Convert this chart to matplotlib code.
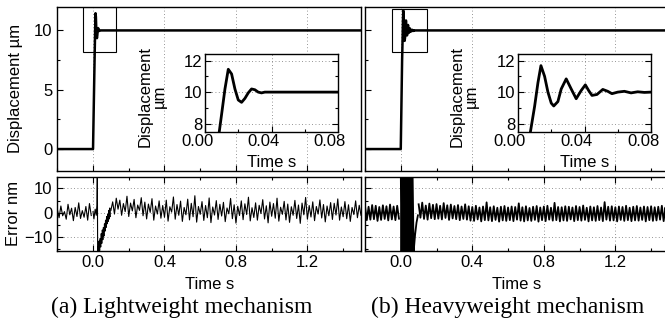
import matplotlib
matplotlib.use("Agg")
import matplotlib.pyplot as plt
import matplotlib.transforms as mtransforms
import numpy as np
from matplotlib.patches import Rectangle
from matplotlib.ticker import MultipleLocator

plt.rcParams['font.family'] = ['Liberation Sans', 'DejaVu Sans']

# ---- step response (displacement um) ----
light_t = [-0.2, 0.0, 0.004, 0.0086, 0.010, 0.012, 0.014, 0.016, 0.018, 0.020,
           0.022, 0.024, 0.026, 0.028, 0.030, 0.032, 0.034, 0.036, 0.040, 0.080, 1.5]
light_y = [0.0, 0.0, 3.5, 7.5, 8.6, 10.2, 11.45, 11.15, 10.2, 9.5,
           9.35, 9.6, 9.95, 10.2, 10.15, 10.0, 9.95, 10.0, 10.0, 10.0, 10.0]

heavy_t = [-0.2, 0.0, 0.004, 0.0075, 0.010, 0.012, 0.0138, 0.016, 0.018, 0.020,
           0.0215, 0.024, 0.026, 0.029, 0.032, 0.035, 0.038, 0.0405, 0.0425, 0.0445,
           0.0475, 0.051, 0.054, 0.0565, 0.060, 0.064, 0.068, 0.072, 0.076, 0.080, 1.5]
heavy_y = [0.0, 0.0, 4.0, 7.5, 9.1, 10.6, 11.68, 11.0, 10.0, 9.3,
           9.12, 9.4, 10.2, 10.84, 10.2, 9.58, 10.1, 10.46, 10.1, 9.79,
           9.85, 10.17, 10.05, 9.9, 10.0, 10.05, 9.95, 10.02, 9.98, 10.0, 10.0]

# ---- tracking error (nm) ----
# samples every 10 ms before the step (-0.20 .. -0.01) and after it (0.10 .. 1.50)
pre_t = np.round(np.arange(20) * 0.01 - 0.2, 3)
post_t = np.round(np.arange(141) * 0.01 + 0.1, 3)

light_err_pre = [1.5, -2.0, 2.8, -1.2, 0.5, -2.6, 3.5, -0.8, 1.9, -3.2,
                 2.2, -1.5, 4.1, -2.3, 0.9, -1.8, 2.6, -3.0, 3.8, -1.1]
light_burst_t = [0.0, 0.005, 0.012, 0.018, 0.022, 0.024, 0.026, 0.028, 0.031, 0.034,
                 0.037, 0.040, 0.043, 0.046, 0.049, 0.052, 0.055, 0.058, 0.061, 0.064,
                 0.067, 0.070, 0.073, 0.076, 0.079, 0.082, 0.085, 0.088, 0.091, 0.094,
                 0.097]
light_burst = [0.5, -2.5, 1.5, -1.0, 3.0, 18.0, -18.0, -14.0, -16.0, -11.5,
               -15.5, -10.5, -14.0, -8.5, -12.5, -7.0, -11.0, -6.0, -9.5, -4.5,
               -7.5, -3.0, -6.0, -1.5, -4.5, -0.5, -3.5, 1.0, -2.5, 2.0,
               -1.5]
light_err_post = [1.0, 4.5, -0.5, 6.0, 1.5, 5.2, -1.0, 3.8, 0.5, 6.8,
                  -1.5, 4.0, 0.8, 5.5, -2.0, 3.2, 1.0, 6.2, -1.2, 4.4,
                  -2.5, 3.6, 0.2, 5.8, -3.0, 2.8, -0.5, 4.9, -2.2, 3.0,
                  -1.8, 5.2, -3.4, 2.5, 0.3, 6.5, -2.6, 3.4, -1.0, 4.8,
                  -3.5, 2.2, -0.8, 5.6, -2.9, 3.9, -1.6, 7.0, -3.8, 2.6,
                  -0.6, 4.6, -3.1, 3.0, -2.0, 6.1, -4.0, 2.4, -0.9, 5.0,
                  -2.7, 3.5, -1.3, 4.3, -3.6, 2.0, -0.4, 5.9, -2.4, 3.3,
                  -4.2, 2.7, -1.1, 4.9, -2.8, 3.7, -0.7, 6.4, -3.3, 2.1,
                  -1.9, 4.1, -3.0, 3.1, -0.3, 5.4, -2.5, 2.9, -4.1, 4.4,
                  -1.4, 3.8, -2.2, 6.0, -3.4, 2.3, -0.6, 4.7, -2.9, 3.6,
                  -3.9, 2.5, -1.0, 5.1, -2.3, 3.2, -4.3, 4.0, -0.8, 6.3,
                  -2.6, 3.0, -1.7, 4.5, -3.2, 2.6, -0.5, 5.3, -2.1, 3.4,
                  -3.7, 2.8, -1.2, 4.2, -2.7, 3.9, -0.9, 5.7, -3.0, 2.4,
                  -1.6, 4.6, -2.4, 3.3, -3.5, 2.2, -0.7, 4.9, -2.0, 3.1, -1.0]

heavy_err_pre = [2.8, -3.0, 2.5, -2.8, 3.2, -2.6, 2.9, -3.3, 2.4, -2.9,
                 3.1, -2.5, 2.7, -3.1, 3.4, -2.7, 2.6, -3.0, 2.9, -2.4]
heavy_burst_t = [0.000, 0.004, 0.008, 0.012, 0.016, 0.020, 0.024, 0.028, 0.032, 0.036,
                 0.040, 0.044, 0.048, 0.052, 0.056, 0.060, 0.066, 0.072, 0.080, 0.088,
                 0.096]
heavy_burst = [18, -18, 18, -18, 18, -18, 18, -18, 18, -18,
               18, -18, 18, -18, 18, -18, 17, -16, -9, -4, -1]
heavy_err_post = [3.5, -2.0, 4.2, -2.5, 3.0, -2.8, 3.8, -2.2, 3.3, -2.6,
                  3.6, -2.4, 2.9, -2.7, 4.0, -2.1, 3.1, -2.9, 3.4, -2.3,
                  2.8, -2.6, 3.2, -3.0, 2.6, -2.5, 3.5, -2.8, 2.7, -3.2,
                  2.4, -3.3, 2.9, -2.7, 2.2, -3.5, 2.6, -3.0, 4.3, -3.1,
                  2.3, -3.4, 2.7, -2.9, 2.1, -3.6, 2.5, -3.1, 2.8, -3.3,
                  2.2, -3.0, 2.6, -3.4, 2.4, -2.8, 3.9, -3.2, 2.3, -3.5,
                  2.7, -3.1, 2.0, -3.3, 2.5, -2.9, 2.8, -3.6, 2.2, -3.0,
                  2.6, -3.4, 2.9, -2.8, 2.1, -3.2, 4.1, -3.0, 2.4, -3.5,
                  2.3, -3.1, 2.7, -3.3, 2.5, -2.7, 2.2, -3.4, 2.8, -3.0,
                  2.4, -3.2, 3.0, -2.9, 2.1, -3.5, 2.6, -3.1, 2.3, -3.3,
                  2.8, -3.0, 2.2, -3.4, 4.4, -2.8, 2.5, -3.2, 2.7, -3.1,
                  2.3, -3.5, 2.6, -2.9, 2.4, -3.3, 2.9, -3.0, 2.1, -3.4,
                  2.5, -3.1, 2.8, -3.2, 2.2, -2.9, 2.6, -3.5, 2.4, -3.0,
                  2.7, -3.3, 2.3, -3.1, 2.5, -2.8, 2.9, -3.4, 2.2, -3.0, 2.5]

inset_ticks = [0.0, 0.04, 0.08]
inset_ticklabels = ["0.00", "0.04", "0.08"]
captions = ["(a) Lightweight mechanism", "(b) Heavyweight mechanism"]

W, H = 665, 329
FS = 12


def box(x0, y0, x1, y1):
    # pixel box (top-left origin) -> figure fraction rect
    return [x0 / W, 1 - y1 / H, (x1 - x0) / W, (y1 - y0) / H]


def style(ax, right=False, top=False):
    ax.tick_params(direction="in", which="both", right=right, top=top,
                   labelsize=FS, width=0.8)
    ax.tick_params(which="major", length=4)
    ax.tick_params(which="minor", length=2.5)
    for s in ax.spines.values():
        s.set_linewidth(1.0)


fig = plt.figure(figsize=(6.65, 3.29), dpi=100)
# inset tick labels sit a little left of their ticks in the original
shift = mtransforms.ScaledTranslation(-8 / 100, 0, fig.dpi_scale_trans)

panels = [
    dict(x0=57.3, x1=361, ix0=205, ix1=338, t=light_t, y=light_y,
         pre=light_err_pre, bt=light_burst_t, bv=light_burst, post=light_err_post,
         rect=(-0.055, 8.2, 0.185, 3.8), cap_x=182, lw_err=0.8, ilab=-0.286),
    dict(x0=365, x1=669, ix0=518, ix1=651, t=heavy_t, y=heavy_y,
         pre=heavy_err_pre, bt=heavy_burst_t, bv=heavy_burst, post=heavy_err_post,
         rect=(-0.05, 8.2, 0.195, 3.6), cap_x=508, lw_err=1.3, ilab=-0.293),
]

for i, p in enumerate(panels):
    first = i == 0

    # top: displacement
    ax = fig.add_axes(box(p["x0"], 6.7, p["x1"], 171))
    ax.plot(p["t"], p["y"], color="black", lw=1.8)
    ax.set_xlim(-0.2, 1.5)
    ax.set_ylim(-1.85, 12)
    ax.xaxis.set_major_locator(MultipleLocator(0.4))
    ax.xaxis.set_minor_locator(MultipleLocator(0.2))
    ax.yaxis.set_major_locator(MultipleLocator(5))
    ax.yaxis.set_minor_locator(MultipleLocator(2.5))
    ax.xaxis.grid(True, ls=(0, (1, 3)), color="0.45", lw=0.6)
    ax.set_xticklabels([])
    style(ax)
    rx, ry, rw, rh = p["rect"]
    ax.add_patch(Rectangle((rx, ry), rw, rh, fill=False, ec="black", lw=0.8))
    if first:
        ax.set_ylabel("Displacement \u00b5m", fontsize=FS)
        ax.yaxis.set_label_coords(-0.113, 0.5)
    else:
        ax.set_yticklabels([])

    # inset
    ins = fig.add_axes(box(p["ix0"], 53.5, p["ix1"], 131.5))
    ins.plot(p["t"], p["y"], color="black", lw=2.0)
    ins.set_xlim(0, 0.08)
    ins.set_ylim(7.5, 12.45)
    ins.set_xticks(inset_ticks)
    ins.set_xticklabels(inset_ticklabels)
    ins.set_yticks([8, 10, 12])
    ins.xaxis.set_minor_locator(MultipleLocator(0.02))
    ins.yaxis.set_minor_locator(MultipleLocator(1))
    ins.grid(True, ls=(0, (1, 3)), color="0.45", lw=0.6)
    style(ins, right=True)
    ins.tick_params(labelsize=FS, pad=2)
    for lab in ins.get_xticklabels():
        lab.set_transform(lab.get_transform() + shift)
    ins.set_xlabel("Time s", fontsize=FS, labelpad=0)
    ins.set_ylabel("Displacement\n\u00b5m", fontsize=FS, linespacing=0.95)
    ins.yaxis.set_label_coords(p["ilab"], 0.45)
    ins.xaxis.set_label_coords(0.5, -0.3)

    # bottom: error
    ex = fig.add_axes(box(p["x0"], 176.7, p["x1"], 250.7))
    ex.plot(pre_t, p["pre"], color="black", lw=p["lw_err"])
    ex.plot(p["bt"], p["bv"], color="black", lw=p["lw_err"])
    ex.plot(post_t, p["post"], color="black", lw=p["lw_err"])
    ex.set_xlim(-0.2, 1.5)
    ex.set_ylim(-15.5, 14.8)
    ex.xaxis.set_major_locator(MultipleLocator(0.4))
    ex.xaxis.set_minor_locator(MultipleLocator(0.2))
    ex.yaxis.set_major_locator(MultipleLocator(10))
    ex.yaxis.set_minor_locator(MultipleLocator(5))
    ex.grid(True, ls=(0, (1, 3)), color="0.45", lw=0.6)
    style(ex, top=True)
    ex.tick_params(axis="x", pad=3)
    ex.set_xlabel("Time s", fontsize=FS, labelpad=0)
    ex.xaxis.set_label_coords(0.5, -0.36)
    if first:
        ex.set_ylabel("Error nm", fontsize=FS)
        ex.yaxis.set_label_coords(-0.12, 0.5)
    else:
        ex.set_yticklabels([])

    fig.text(p["cap_x"] / W, 1 - 307 / H, captions[i], ha="center", va="center",
             fontsize=17, family=["Liberation Serif", "DejaVu Serif"])

fig.savefig("out.png", dpi=100)
